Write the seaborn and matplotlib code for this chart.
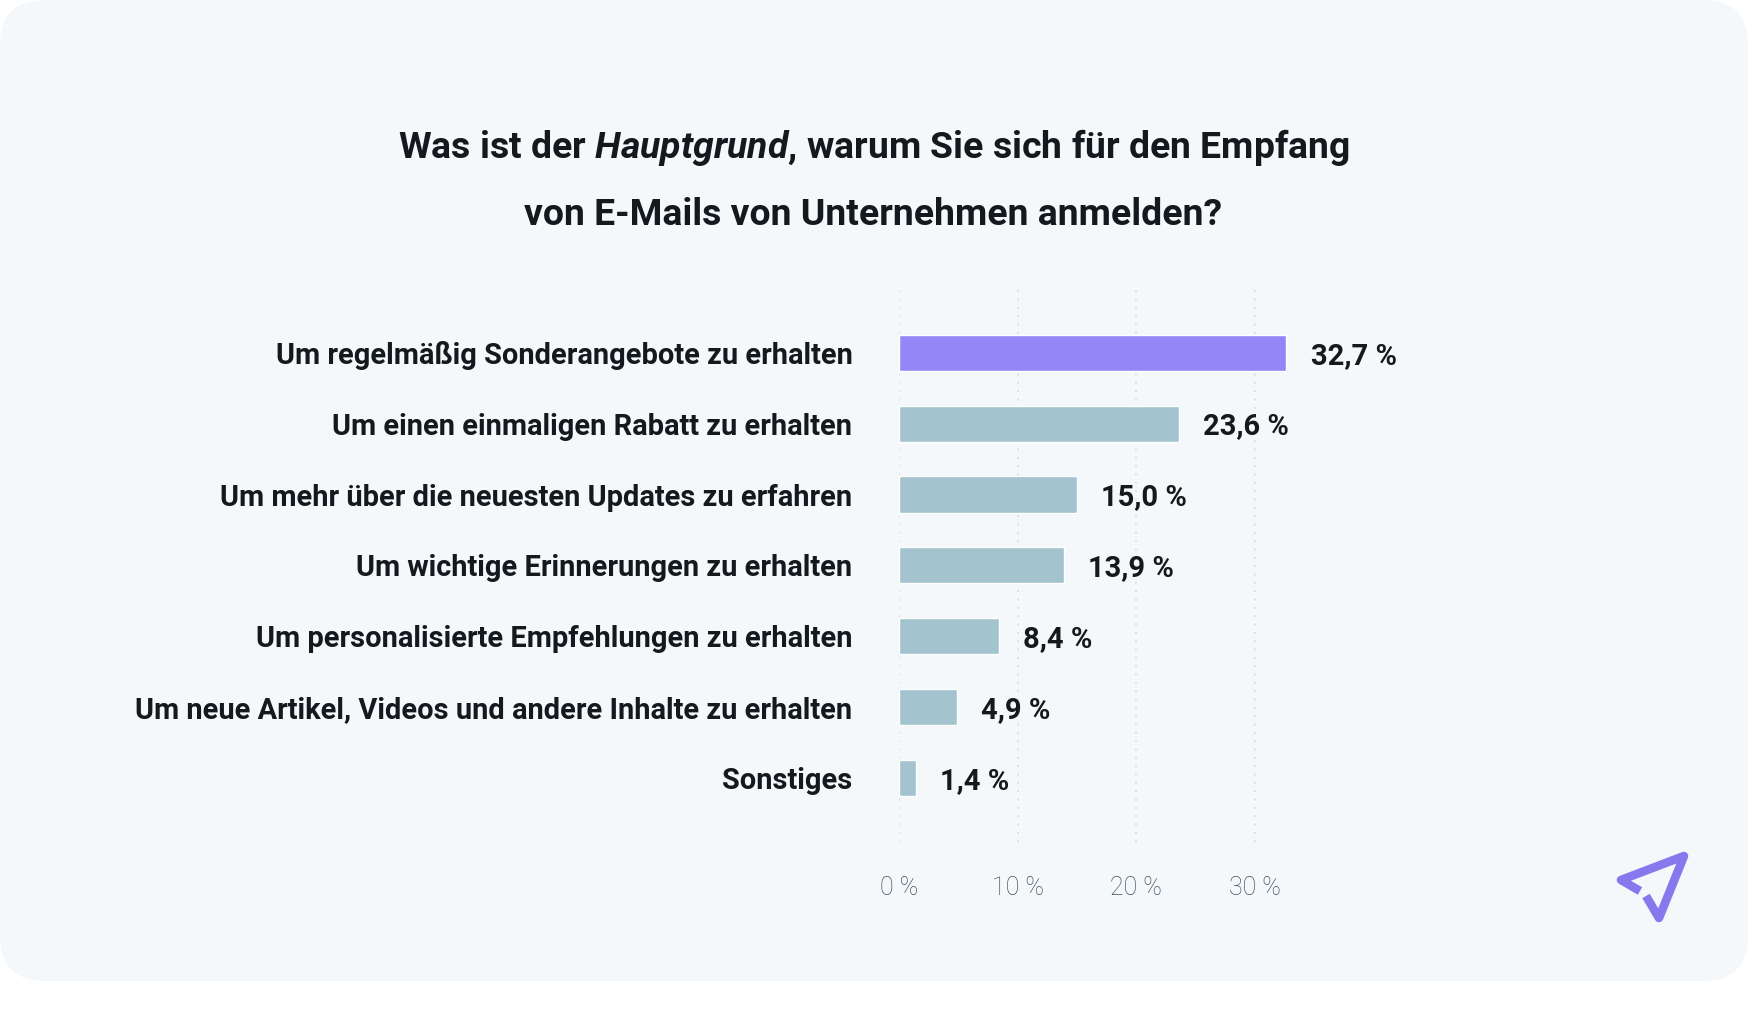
import matplotlib
matplotlib.use("Agg")
import matplotlib.pyplot as plt
from matplotlib.patches import FancyBboxPatch
import pandas as pd
import seaborn as sns

sns.set_theme(style="white")
plt.rcParams['font.family'] = ['Roboto', 'DejaVu Sans']
plt.rcParams['mathtext.fontset'] = 'custom'
plt.rcParams['mathtext.it'] = 'Roboto:italic:bold'
plt.rcParams['mathtext.rm'] = 'Roboto:bold'

categories = [
    "Um regelmäßig Sonderangebote zu erhalten",
    "Um einen einmaligen Rabatt zu erhalten",
    "Um mehr über die neuesten Updates zu erfahren",
    "Um wichtige Erinnerungen zu erhalten",
    "Um personalisierte Empfehlungen zu erhalten",
    "Um neue Artikel, Videos und andere Inhalte zu erhalten",
    "Sonstiges",
]
values = [32.7, 23.6, 15.0, 13.9, 8.4, 4.9, 1.4]
value_labels = ["32,7 %", "23,6 %", "15,0 %", "13,9 %", "8,4 %", "4,9 %", "1,4 %"]
x_ticks = [0, 10, 20, 30]
x_tick_labels = ["0 %", "10 %", "20 %", "30 %"]
bar_colors = ["#9685f6"] + ["#a3c4ce"] * 6

W, H = 1748, 1033
TEXT = "#14191e"
fig = plt.figure(figsize=(W / 100, H / 100), dpi=100, facecolor="white")

# background layer in pixel coordinates
bg = fig.add_axes([0, 0, 1, 1], zorder=0)
bg.set_xlim(0, W)
bg.set_ylim(H, 0)
bg.axis("off")
bg.add_patch(FancyBboxPatch((0, 0), W, 981, boxstyle="round,pad=0,rounding_size=45",
                            fc="#f4f8fb", ec="none"))
bg.text(873.5, 148, r"Was ist der $\mathit{Hauptgrund}$, warum Sie sich für den Empfang",
        ha="center", va="center", fontsize=26.9, fontweight="bold", color=TEXT)
bg.text(873.5, 215, "von E-Mails von Unternehmen anmelden?",
        ha="center", va="center", fontsize=26.9, fontweight="bold", color=TEXT)

# paper plane logo
bg.plot([1640, 1621, 1684, 1659, 1646], [891, 880, 856, 918, 896], color="#8878ee",
        lw=6.2, solid_joinstyle="round", solid_capstyle="butt")

# plot area: 0 % at x=899, 10 % every 118.5 px, gridlines from y=286 to y=842
ax = fig.add_axes([899 / W, 1 - 842 / H, 474 / W, 556 / H], zorder=1)
ax.patch.set_alpha(0)

df = pd.DataFrame({"category": categories, "value": values})
sns.barplot(data=df, x="value", y="category", hue="category", palette=bar_colors,
            width=0.508, saturation=1, legend=False, ax=ax, zorder=3)

ax.set_xlim(0, 40)
ax.set_ylim(6.9, -0.94)
ax.set_xlabel("")
ax.set_ylabel("")
ax.set_xticks(x_ticks)
ax.set_xticklabels(x_tick_labels, fontsize=18, fontweight="light", color="#3f4f5b")
ax.tick_params(axis="x", length=0, pad=24.3)
ax.tick_params(axis="y", length=0, pad=33.5)
for label in ax.get_yticklabels():
    label.set_fontsize(20.9)
    label.set_fontweight("bold")
    label.set_color(TEXT)
sns.despine(ax=ax, left=True, bottom=True)
ax.grid(axis="x", color="#d3d9de", linestyle=(0, (1, 4)), linewidth=1.2, zorder=1)
ax.set_axisbelow(True)

for container, text in zip(ax.containers, value_labels):
    anns = ax.bar_label(container, labels=[text], padding=17.5, fontsize=21, fontweight="bold",
                        color=TEXT)
    for ann in anns:
        ann.set_verticalalignment("center_baseline")

fig.savefig("out.png", dpi=100)
